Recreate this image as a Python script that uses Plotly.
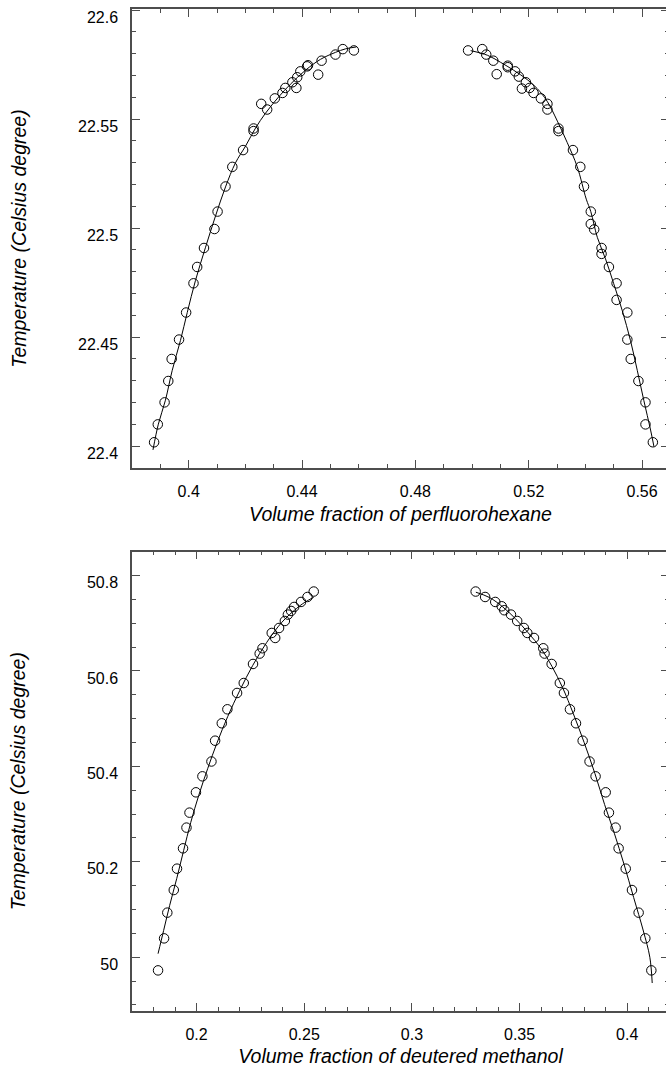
import plotly.graph_objects as go

# ---------------- Top panel: perfluorohexane ----------------
pfh_left_x = [0.4583, 0.4544, 0.4518, 0.4469, 0.4457, 0.4418, 0.4421, 0.4394, 0.4383, 0.4380,
              0.4366, 0.4341, 0.4331, 0.4304, 0.4277, 0.4256, 0.4229, 0.4229, 0.4192, 0.4154,
              0.4130, 0.4102, 0.4091, 0.4054, 0.4030, 0.4017, 0.3991, 0.3966, 0.3940, 0.3928,
              0.3915, 0.3891, 0.3878]
pfh_left_t = [22.5815, 22.5821, 22.5796, 22.5768, 22.5704, 22.5742, 22.5747, 22.5719, 22.5692, 22.5643,
              22.5669, 22.5643, 22.5620, 22.5595, 22.5544, 22.5570, 22.5457, 22.5445, 22.5358, 22.5281,
              22.5191, 22.5076, 22.4996, 22.4909, 22.4822, 22.4747, 22.4613, 22.4489, 22.4400, 22.4299,
              22.4201, 22.4100, 22.4018]

pfh_right_x = [0.4986, 0.5036, 0.5050, 0.5075, 0.5087, 0.5126, 0.5126, 0.5152, 0.5165, 0.5190,
               0.5176, 0.5203, 0.5217, 0.5243, 0.5266, 0.5266, 0.5305, 0.5305, 0.5356, 0.5382,
               0.5395, 0.5419, 0.5419, 0.5431, 0.5457, 0.5457, 0.5483, 0.5510, 0.5510, 0.5548,
               0.5548, 0.5560, 0.5587, 0.5612, 0.5612, 0.5638]
pfh_right_t = [22.5815, 22.5821, 22.5796, 22.5768, 22.5706, 22.5745, 22.5738, 22.5719, 22.5695, 22.5669,
               22.5640, 22.5643, 22.5620, 22.5595, 22.5570, 22.5544, 22.5457, 22.5445, 22.5358, 22.5281,
               22.5191, 22.5076, 22.5019, 22.4994, 22.4909, 22.4882, 22.4822, 22.4747, 22.4671, 22.4613,
               22.4489, 22.4400, 22.4299, 22.4201, 22.4100, 22.4018]

pfh_fit_left_x = [0.3874, 0.3893, 0.3918, 0.3942, 0.3971, 0.3995, 0.4024, 0.4059, 0.4095, 0.4130,
                  0.4165, 0.4201, 0.4236, 0.4271, 0.4317, 0.4359, 0.4412, 0.4465, 0.4518, 0.4553, 0.4592]
pfh_fit_left_t = [22.3983, 22.4101, 22.4211, 22.4348, 22.4485, 22.4613, 22.4760, 22.4910, 22.5057, 22.5189,
                  22.5299, 22.5377, 22.5459, 22.5527, 22.5601, 22.5660, 22.5724, 22.5774, 22.5806, 22.5822, 22.5831]

pfh_fit_right_x = [0.4995, 0.5054, 0.5100, 0.5147, 0.5195, 0.5230, 0.5265, 0.5301, 0.5336, 0.5371,
                   0.5403, 0.5419, 0.5442, 0.5471, 0.5500, 0.5530, 0.5559, 0.5583, 0.5606, 0.5630, 0.5642]
pfh_fit_right_t = [22.5814, 22.5793, 22.5761, 22.5724, 22.5681, 22.5640, 22.5582, 22.5491, 22.5392, 22.5282,
                   22.5133, 22.5076, 22.4958, 22.4859, 22.4745, 22.4622, 22.4485, 22.4348, 22.4211, 22.4074, 22.3998]

# ---------------- Bottom panel: deutered methanol ----------------
dm_left_x = [0.2544, 0.2515, 0.2485, 0.2453, 0.2439, 0.2424, 0.2410, 0.2383, 0.2365, 0.2349,
             0.2306, 0.2293, 0.2262, 0.2219, 0.2188, 0.2143, 0.2117, 0.2086, 0.2069, 0.2027,
             0.1997, 0.1967, 0.1953, 0.1937, 0.1909, 0.1894, 0.1864, 0.1849, 0.1821]
dm_left_t = [50.7665, 50.7551, 50.7447, 50.7342, 50.7258, 50.7182, 50.7048, 50.6901, 50.6692, 50.6797,
             50.6476, 50.6365, 50.6147, 50.5748, 50.5539, 50.5197, 50.4904, 50.4539, 50.4103, 50.3792,
             50.3457, 50.3031, 50.2717, 50.2283, 50.1857, 50.1409, 50.0935, 50.0396, 49.9725]

dm_right_x = [0.3296, 0.3340, 0.3387, 0.3417, 0.3429, 0.3460, 0.3489, 0.3520, 0.3536, 0.3567,
              0.3610, 0.3616, 0.3649, 0.3687, 0.3706, 0.3734, 0.3762, 0.3793, 0.3825, 0.3853,
              0.3900, 0.3915, 0.3946, 0.3960, 0.3993, 0.4022, 0.4053, 0.4084, 0.4112]
dm_right_t = [50.7665, 50.7551, 50.7447, 50.7356, 50.7273, 50.7182, 50.7048, 50.6901, 50.6797, 50.6692,
              50.6476, 50.6365, 50.6147, 50.5748, 50.5539, 50.5197, 50.4904, 50.4539, 50.4103, 50.3792,
              50.3457, 50.3031, 50.2717, 50.2283, 50.1857, 50.1409, 50.0935, 50.0396, 49.9725]

dm_fit_left_x = [0.1821, 0.1847, 0.1875, 0.1908, 0.1940, 0.1973, 0.2010, 0.2052, 0.2094, 0.2145,
                 0.2201, 0.2261, 0.2326, 0.2396, 0.2465, 0.2503, 0.2544]
dm_fit_left_t = [50.0075, 50.0563, 50.1088, 50.1654, 50.2241, 50.2828, 50.3394, 50.3960, 50.4484, 50.5050,
                 50.5595, 50.6119, 50.6601, 50.7021, 50.7314, 50.7440, 50.7545]

dm_fit_right_x = [0.3297, 0.3360, 0.3420, 0.3480, 0.3540, 0.3600, 0.3650, 0.3700, 0.3750, 0.3800,
                  0.3850, 0.3895, 0.3940, 0.3985, 0.4030, 0.4075, 0.4105, 0.4116]
dm_fit_right_t = [50.7651, 50.7540, 50.7350, 50.7100, 50.6800, 50.6470, 50.6100, 50.5650, 50.5100, 50.4500,
                  50.3850, 50.3200, 50.2600, 50.1950, 50.1250, 50.0550, 50.0000, 49.9460]

# ---------------- Text ----------------
top_xtitle = "Volume fraction of perfluorohexane"
bottom_xtitle = "Volume fraction of deutered methanol"
ytitle = "Temperature (Celsius degree)"

FONT = "Liberation Sans, Arial, sans-serif"
AXC = "#4d4d4d"

fig = go.Figure()

marker = dict(symbol="circle-open", size=9.5, color="black", line=dict(width=1, color="black"))
line = dict(color="black", width=1)

for xs, ys in [(pfh_fit_left_x, pfh_fit_left_t), (pfh_fit_right_x, pfh_fit_right_t)]:
    fig.add_trace(go.Scatter(x=xs, y=ys, mode="lines", line=line, xaxis="x", yaxis="y",
                             line_shape="spline", showlegend=False, hoverinfo="skip"))
for xs, ys in [(pfh_left_x, pfh_left_t), (pfh_right_x, pfh_right_t)]:
    fig.add_trace(go.Scatter(x=xs, y=ys, mode="markers", marker=marker, xaxis="x", yaxis="y",
                             showlegend=False))
for xs, ys in [(dm_fit_left_x, dm_fit_left_t), (dm_fit_right_x, dm_fit_right_t)]:
    fig.add_trace(go.Scatter(x=xs, y=ys, mode="lines", line=line, xaxis="x2", yaxis="y2",
                             line_shape="spline", showlegend=False, hoverinfo="skip"))
for xs, ys in [(dm_left_x, dm_left_t), (dm_right_x, dm_right_t)]:
    fig.add_trace(go.Scatter(x=xs, y=ys, mode="markers", marker=marker, xaxis="x2", yaxis="y2",
                             showlegend=False))

# The reference frame's right edge lies just beyond the 666 px window.
W, H = 670, 1070
L = 132


def ax_common(dtick, tick0, minor_dtick):
    return dict(
        showline=True, linecolor=AXC, linewidth=1.5, mirror="ticks",
        ticks="inside", ticklen=8, tickwidth=1, tickcolor=AXC,
        dtick=dtick, tick0=tick0,
        minor=dict(dtick=minor_dtick, ticks="inside", ticklen=4, tickwidth=1, tickcolor=AXC, showgrid=False),
        showgrid=False, zeroline=False,
        tickfont=dict(family=FONT, size=16, color="black"),
    )


def dom(top_px, bottom_px):
    return [(H - bottom_px) / H, (H - top_px) / H]


title_font = dict(family=FONT, size=19.5, style="italic", color="black")

fig.update_layout(
    width=W, height=H,
    margin=dict(l=L, r=1, t=0, b=0),
    paper_bgcolor="white", plot_bgcolor="white",
    font=dict(family=FONT, color="black"),
    xaxis=dict(**ax_common(0.04, 0.4, 0.01), range=[0.38, 0.5695], anchor="y",
               ticklabelstandoff=8,
               title=dict(text=top_xtitle, font=title_font, standoff=8)),
    yaxis=dict(**ax_common(0.05, 22.4, 0.01), range=[22.39, 22.6005], domain=dom(9, 468), anchor="x",
               ticklabelstandoff=9, ticklabelshift=7,
               title=dict(text=ytitle, font=title_font, standoff=46)),
    xaxis2=dict(**ax_common(0.05, 0.2, 0.01), range=[0.17, 0.4194], anchor="y2",
                ticklabelstandoff=8,
                title=dict(text=bottom_xtitle, font=title_font, standoff=8)),
    yaxis2=dict(**ax_common(0.2, 50.0, 0.05), range=[49.888, 50.85], domain=dom(551.7, 1010.7), anchor="x2",
                ticklabelstandoff=9, ticklabelshift=7,
                title=dict(text=ytitle, font=title_font, standoff=56)),
)

fig.write_html(
    "out.html",
    config={"displayModeBar": False},
    post_script="document.body.style.margin='0';document.body.style.overflow='hidden';",
)
